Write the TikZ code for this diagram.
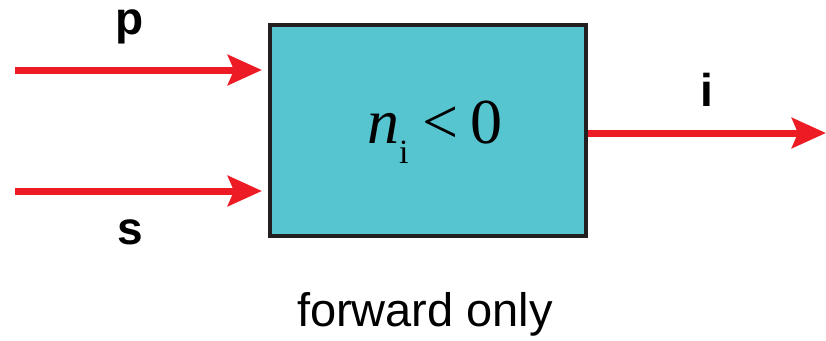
\documentclass[tikz,border=0pt]{standalone}
\usepackage{fontspec}
\setmainfont{Liberation Serif}
\setsansfont{Liberation Sans}
\usetikzlibrary{arrows.meta, positioning}
\definecolor{boxfill}{HTML}{56C5D0}
\definecolor{flowred}{HTML}{ED1C24}
\definecolor{edgeblk}{HTML}{231F20}

\begin{document}
\begin{tikzpicture}[x=1pt, y=-1pt,
    every node/.style={font=\sffamily},
    proc/.style={draw=edgeblk, line width=4pt, fill=boxfill, minimum width=316pt, minimum height=211pt, inner sep=0pt},
    flow/.style={draw=flowred, line width=7pt, -{Stealth[length=34pt, width=30pt, inset=6pt]}},
    flowlbl/.style={font=\fontsize{46}{46}\selectfont\sffamily\bfseries, anchor=base, inner sep=1pt}
]
\useasboundingbox (0,0) rectangle (826,340);
\node[proc] (box) at (428,130.5) {};
\node[anchor=base, font=\fontsize{64}{64}\selectfont\rmfamily] (cond) at (435,143)
  {\textit{n}\raisebox{-20pt}{\fontsize{34}{34}\selectfont i}\hspace{14pt}<\hspace{12pt}0};
% Inputs
\coordinate (pin) at (15,70);
\coordinate (sin) at (15,191);
\draw[flow, shorten >=6pt] (pin) -- (pin -| box.west);
\draw[flow, shorten >=6pt] (sin) -- (sin -| box.west);
\node[flowlbl, text height=25pt] (plbl) at (130,34) {p};
\node[flowlbl] (slbl) at (130,244) {s};
% Output
\coordinate (iout) at (826,133);
\draw[flow] (box.east |- iout) -- (iout);
\node[flowlbl] (ilbl) at (706.5,106) {i};
% Caption
\node[anchor=base, font=\fontsize{47}{47}\selectfont\sffamily] (cap) at (425,326) {forward only};
\end{tikzpicture}
\end{document}
